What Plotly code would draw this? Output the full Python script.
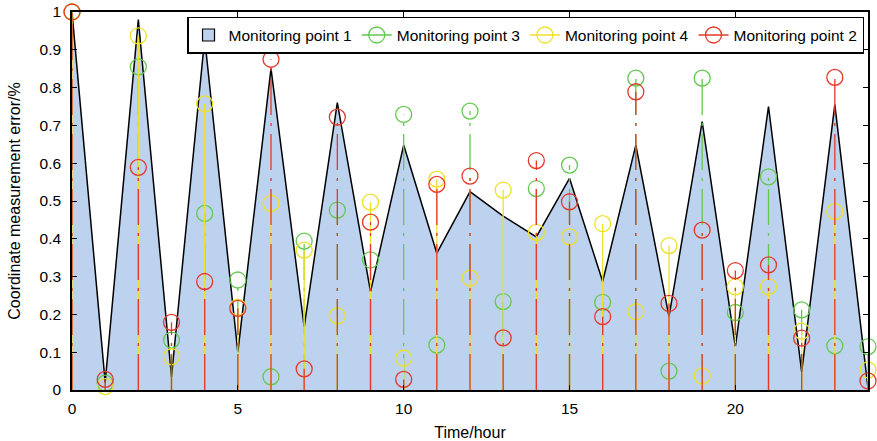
import plotly.graph_objects as go

hours = list(range(25))
point1 = [1.0, 0.02, 0.98, 0.035, 0.93, 0.10, 0.85, 0.167, 0.76, 0.26, 0.648, 0.362, 0.525,
          0.46, 0.405, 0.56, 0.287, 0.648, 0.194, 0.71, 0.115, 0.75, 0.048, 0.755, 0.005]
point3 = [1.0, 0.018, 0.855, 0.132, 0.467, 0.291, 0.035, 0.394, 0.476, 0.344, 0.729, 0.119, 0.738,
          0.234, 0.533, 0.595, 0.232, 0.825, 0.05, 0.825, 0.205, 0.564, 0.212, 0.117, 0.115]
point4 = [1.0, 0.009, 0.937, 0.088, 0.757, 0.219, 0.494, 0.37, 0.196, 0.497, 0.084, 0.558, 0.296,
          0.529, 0.417, 0.405, 0.44, 0.207, 0.382, 0.037, 0.273, 0.273, 0.156, 0.472, 0.053]
point2 = [1.0, 0.028, 0.589, 0.179, 0.287, 0.216, 0.875, 0.056, 0.722, 0.444, 0.028, 0.544, 0.566,
          0.138, 0.607, 0.498, 0.194, 0.789, 0.229, 0.423, 0.316, 0.331, 0.137, 0.827, 0.024]

FONT = "Liberation Sans, Arial, sans-serif"
FILL = "#BDD2EE"
STEM_DASH = "36px,8px,3px,8px"

fig = go.Figure()

# area (Monitoring point 1)
fig.add_trace(go.Scatter(
    x=hours, y=point1, mode="lines", fill="tozeroy",
    fillcolor=FILL, line=dict(color="black", width=1.5),
    name="Monitoring point 1", showlegend=False))
# legend entry for the area: filled box with black edge
fig.add_trace(go.Bar(x=[None], y=[None], name="Monitoring point 1",
                     marker=dict(color=FILL, line=dict(color="black", width=1.2))))

series = [("Monitoring point 3", point3, "#62C94E", STEM_DASH),
          ("Monitoring point 4", point4, "#EEE02A", "solid"),
          ("Monitoring point 2", point2, "#E5382A", STEM_DASH)]

for name, vals, color, dash in series:
    sx, sy = [], []
    for h, v in zip(hours, vals):
        sx += [h, h, None]
        sy += [0, v, None]
    fig.add_trace(go.Scatter(x=sx, y=sy, mode="lines", showlegend=False,
                             line=dict(color=color, width=1.3, dash=dash),
                             hoverinfo="skip"))
    fig.add_trace(go.Scatter(x=hours, y=vals, mode="markers", showlegend=False,
                             cliponaxis=False,
                             marker=dict(symbol="circle-open", size=16,
                                         color=color, line=dict(width=1.3, color=color)),
                             name=name))
    fig.add_trace(go.Scatter(x=[None], y=[None], mode="lines+markers", name=name,
                             line=dict(color=color, width=1.3),
                             marker=dict(symbol="circle-open", size=16, color=color,
                                         line=dict(width=1.3, color=color))))

axis_common = dict(showline=True, linecolor="black", linewidth=1.5, mirror="ticks",
                   ticks="inside", ticklen=5, tickcolor="black", tickwidth=1,
                   showgrid=False, zeroline=False, automargin=False,
                   tickfont=dict(family=FONT, size=15.5, color="black"))

fig.update_layout(
    width=877, height=441,
    margin=dict(l=72, r=9, t=12, b=51),
    plot_bgcolor="white", paper_bgcolor="white",
    font=dict(family=FONT, size=16, color="black"),
    barmode="overlay",
    xaxis=dict(range=[0, 24], tickvals=[0, 5, 10, 15, 20], ticklabelstandoff=4,
               title=dict(text="Time/hour", font=dict(family=FONT, size=16)),
               **axis_common),
    yaxis=dict(range=[0, 1], tickvals=[i / 10 for i in range(11)], ticklabelstandoff=6,
               ticktext=["0", "0.1", "0.2", "0.3", "0.4", "0.5", "0.6", "0.7", "0.8", "0.9", "1"],
               title=dict(text="Coordinate measurement error/%", font=dict(family=FONT, size=16)),
               **axis_common),
    legend=dict(orientation="h", x=0.995, xanchor="right", y=0.987, yanchor="top",
                bgcolor="white", bordercolor="black", borderwidth=1.5,
                font=dict(family=FONT, size=15.5, color="black"),
                itemwidth=30, tracegroupgap=0, traceorder="normal"),
    showlegend=True,
)

fig.write_html("out.html")
